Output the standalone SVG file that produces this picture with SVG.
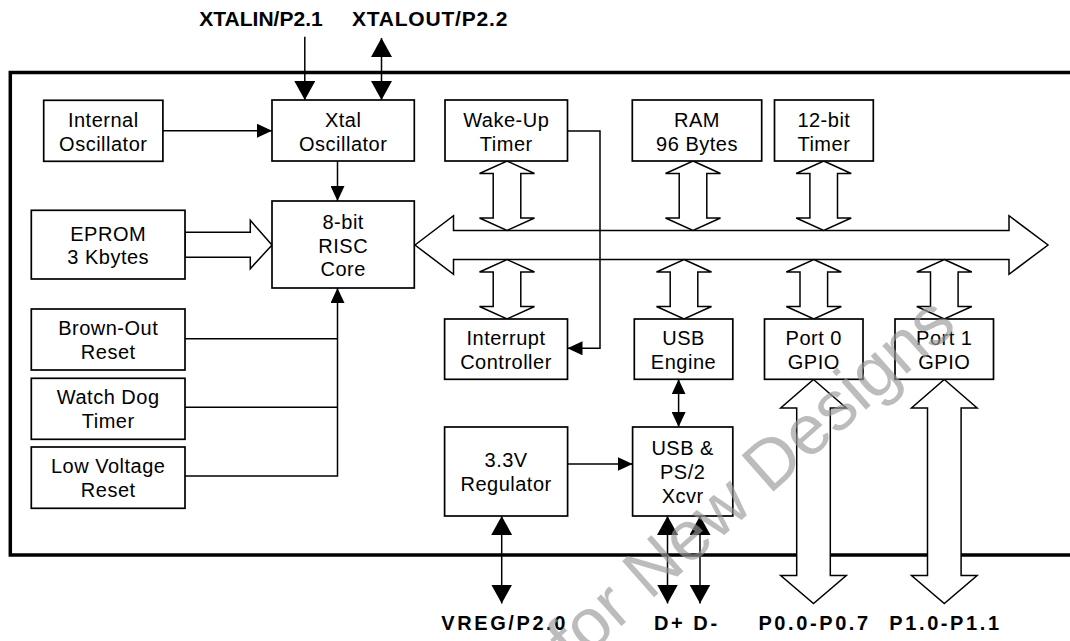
<svg xmlns="http://www.w3.org/2000/svg" width="1070" height="641" viewBox="0 0 1070 641">
<style>
.box{fill:#fff;stroke:#000;stroke-width:1.7}
.t{font-family:"Liberation Sans",Arial,sans-serif;font-size:20px;letter-spacing:0.5px;text-anchor:middle;fill:#000}
.lbl{font-family:"Liberation Sans",Arial,sans-serif;font-weight:bold;font-size:21px;text-anchor:middle;fill:#000}
.lbl2{font-family:"Liberation Sans",Arial,sans-serif;font-weight:bold;font-size:20px;letter-spacing:2.6px;text-anchor:middle;fill:#000}
.ln{fill:none;stroke:#000;stroke-width:1.5}
.fat{fill:#fff;stroke:#000;stroke-width:1.5;stroke-linejoin:miter}
.frame{fill:none;stroke:#000;stroke-width:3.5}
.wm{font-family:"Liberation Sans",Arial,sans-serif;font-size:70px;fill:#999;opacity:0.65}
</style>
<defs>
<marker id="sa" markerUnits="userSpaceOnUse" markerWidth="15" markerHeight="14" viewBox="0 0 15 14" refX="15" refY="7" orient="auto-start-reverse"><path d="M0,0 L15,7 L0,14 z" fill="#000"/></marker>
<marker id="la" markerUnits="userSpaceOnUse" markerWidth="19" markerHeight="21" viewBox="0 0 19 21" refX="19" refY="10.5" orient="auto-start-reverse"><path d="M0,0 L19,10.5 L0,21 z" fill="#000"/></marker>
</defs>
<rect width="1070" height="641" fill="#fff"/>
<path class="frame" d="M1075,72.5 H10.3 V555 H1075"/>

<g id="buses">
<polygon class="fat" points="415,245 453.5,215.7 453.5,230.5 1009,230.5 1009,215.7 1048,245 1009,274.3 1009,259.5 453.5,259.5 453.5,274.3"/>
<polygon class="fat" points="185,232.3 250.3,232.3 250.3,220.3 272,245 250.3,268.7 250.3,257.3 185,257.3"/>
<polygon class="fat" points="507,161 534.5,173.5 520.8,173.5 520.8,218 534.5,218 507,230.5 479.5,218 493.2,218 493.2,173.5 479.5,173.5"/>
<polygon class="fat" points="693,161 720.5,173.5 706.8,173.5 706.8,218 720.5,218 693,230.5 665.5,218 679.2,218 679.2,173.5 665.5,173.5"/>
<polygon class="fat" points="823.7,161 851.2,173.5 837.5,173.5 837.5,218 851.2,218 823.7,230.5 796.2,218 809.9,218 809.9,173.5 796.2,173.5"/>
<polygon class="fat" points="507,259.5 534.5,272 520.8,272 520.8,306.5 534.5,306.5 507,319 479.5,306.5 493.2,306.5 493.2,272 479.5,272"/>
<polygon class="fat" points="684,259.5 711.5,272 697.8,272 697.8,306.5 711.5,306.5 684,319 656.5,306.5 670.2,306.5 670.2,272 656.5,272"/>
<polygon class="fat" points="813.8,259.5 841.3,272 827.6,272 827.6,306.5 841.3,306.5 813.8,319 786.3,306.5 800,306.5 800,272 786.3,272"/>
<polygon class="fat" points="944.3,259.5 971.8,272 958.1,272 958.1,306.5 971.8,306.5 944.3,319 916.8,306.5 930.5,306.5 930.5,272 916.8,272"/>
<polygon class="fat" points="813.5,379.5 846.3,408 830.3,408 830.3,575.5 846.3,575.5 813.5,603.5 780.7,575.5 796.7,575.5 796.7,408 780.7,408"/>
<polygon class="fat" points="944.3,379.5 977.1,408 961.1,408 961.1,575.5 977.1,575.5 944.3,603.5 911.5,575.5 927.5,575.5 927.5,408 911.5,408"/>
</g>

<g id="connectors">
<line class="ln" x1="304.8" y1="36.7" x2="304.8" y2="100" marker-end="url(#la)"/>
<line class="ln" x1="381.5" y1="38" x2="381.5" y2="100" marker-start="url(#la)" marker-end="url(#la)"/>
<line class="ln" x1="162.9" y1="130.7" x2="272" y2="130.7" marker-end="url(#sa)"/>
<line class="ln" x1="337.5" y1="161" x2="337.5" y2="201" marker-end="url(#sa)"/>
<line class="ln" x1="185" y1="338.7" x2="337.5" y2="338.7"/>
<line class="ln" x1="185" y1="407.3" x2="337.5" y2="407.3"/>
<path class="ln" d="M185,476 H337.5 V288" marker-end="url(#sa)"/>
<path class="ln" d="M567.5,131 H600 V348.3 H567.5" marker-end="url(#sa)"/>
<line class="ln" x1="678.6" y1="379.3" x2="678.6" y2="427" marker-start="url(#sa)" marker-end="url(#sa)"/>
<line class="ln" x1="567.7" y1="464" x2="632.6" y2="464" marker-end="url(#sa)"/>
<line class="ln" x1="501.7" y1="516" x2="501.7" y2="603.5" marker-start="url(#la)" marker-end="url(#la)"/>
<line class="ln" x1="667.5" y1="516" x2="667.5" y2="603.5" marker-start="url(#la)" marker-end="url(#la)"/>
<line class="ln" x1="700" y1="516" x2="700" y2="603.5" marker-start="url(#la)" marker-end="url(#la)"/>
</g>

<g id="internal-osc"><rect class="box" x="43.7" y="100.3" width="119.2" height="61"/><text class="t" x="103.3" y="126.5">Internal</text><text class="t" x="103.3" y="150.5">Oscillator</text></g>
<g id="xtal-osc"><rect class="box" x="272" y="100" width="142.3" height="61"/><text class="t" x="343.2" y="126.5">Xtal</text><text class="t" x="343.2" y="150.5">Oscillator</text></g>
<g id="wakeup"><rect class="box" x="445" y="100" width="122.5" height="61"/><text class="t" x="506.3" y="126.5">Wake-Up</text><text class="t" x="506.3" y="150.5">Timer</text></g>
<g id="ram"><rect class="box" x="632.3" y="100" width="129.4" height="61"/><text class="t" x="697" y="126.5">RAM</text><text class="t" x="697" y="150.5">96 Bytes</text></g>
<g id="timer12"><rect class="box" x="774.5" y="100" width="98.8" height="61"/><text class="t" x="823.9" y="126.5">12-bit</text><text class="t" x="823.9" y="150.5">Timer</text></g>
<g id="eprom"><rect class="box" x="31.3" y="210.3" width="153.7" height="68.7"/><text class="t" x="108.2" y="240.7">EPROM</text><text class="t" x="108.2" y="264.3">3 Kbytes</text></g>
<g id="core"><rect class="box" x="272" y="201" width="142.3" height="87"/><text class="t" x="343.2" y="229">8-bit</text><text class="t" x="343.2" y="252.5">RISC</text><text class="t" x="343.2" y="276">Core</text></g>
<g id="brownout"><rect class="box" x="31.3" y="309" width="153.7" height="61"/><text class="t" x="108.2" y="335">Brown-Out</text><text class="t" x="108.2" y="359.3">Reset</text></g>
<g id="watchdog"><rect class="box" x="31.3" y="378.3" width="153.7" height="61"/><text class="t" x="108.2" y="404.3">Watch Dog</text><text class="t" x="108.2" y="428.3">Timer</text></g>
<g id="lvreset"><rect class="box" x="31.3" y="447" width="153.7" height="61.3"/><text class="t" x="108.2" y="473.3">Low Voltage</text><text class="t" x="108.2" y="497.3">Reset</text></g>
<g id="interrupt"><rect class="box" x="444.6" y="319" width="122.9" height="60.3"/><text class="t" x="506" y="345">Interrupt</text><text class="t" x="506" y="369">Controller</text></g>
<g id="usb-engine"><rect class="box" x="634.3" y="319" width="98.5" height="60.3"/><text class="t" x="683.5" y="345">USB</text><text class="t" x="683.5" y="369">Engine</text></g>
<g id="port0"><rect class="box" x="764.5" y="319" width="98.5" height="60.3"/><text class="t" x="813.8" y="345">Port 0</text><text class="t" x="813.8" y="369">GPIO</text></g>
<g id="port1"><rect class="box" x="895" y="319" width="98.5" height="60.3"/><text class="t" x="944.3" y="345">Port 1</text><text class="t" x="944.3" y="369">GPIO</text></g>
<g id="regulator"><rect class="box" x="444.6" y="427" width="123" height="89"/><text class="t" x="506.1" y="466.7">3.3V</text><text class="t" x="506.1" y="491">Regulator</text></g>
<g id="xcvr"><rect class="box" x="632.6" y="427" width="100.2" height="89"/><text class="t" x="682.7" y="455">USB &amp;</text><text class="t" x="682.7" y="479">PS/2</text><text class="t" x="682.7" y="502.7">Xcvr</text></g>

<g id="pins">
<text class="lbl" x="261" y="26">XTALIN/P2.1</text>
<text class="lbl" x="430" y="26" style="letter-spacing:0.8px">XTALOUT/P2.2</text>
<text class="lbl2" x="504.6" y="630">VREG/P2.0</text>
<text class="lbl2" x="686.8" y="630">D+ D-</text>
<text class="lbl2" x="814.6" y="630">P0.0-P0.7</text>
<text class="lbl2" x="945.5" y="630">P1.0-P1.1</text>
</g>

<text class="wm" transform="translate(574,668) rotate(-41.5)">for New Designs</text>
</svg>
